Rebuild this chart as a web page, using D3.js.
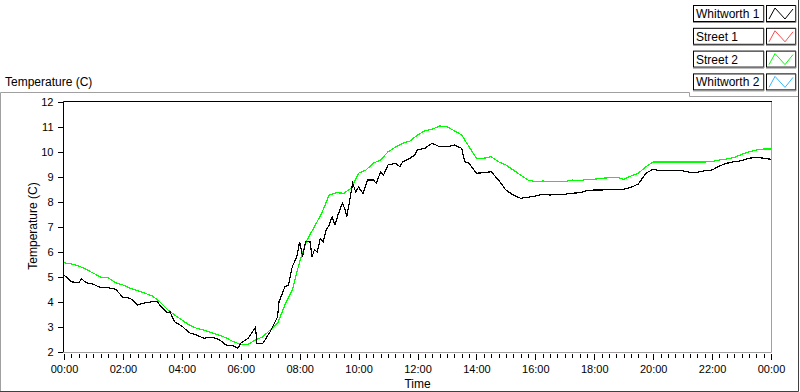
<!DOCTYPE html>
<html>
<head>
<meta charset="utf-8">
<script src="https://cdn.jsdelivr.net/npm/d3@7"></script>
<style>
  body { margin: 0; background: #fff; }
  svg { display: block; font-family: "Liberation Sans", Arial, sans-serif; }
  .lbl { font-size: 12px; fill: #000; }
  .tick { font-size: 11px; fill: #000; }
</style>
</head>
<body>
<svg id="chart" width="800" height="392"></svg>
<script>
// ---- data (hours of day, temperature in C) ----
const seriesNames = ['Whitworth 1', 'Street 1', 'Street 2', 'Whitworth 2'];
const seriesColors = ['#000000', '#ff4a4a', '#00ff00', '#38b8ff'];

const w1Hours = [0, 0.25, 0.5, 0.6, 0.75, 1, 1.25, 1.5, 1.75, 2, 2.25, 2.5, 2.75, 3, 3.15, 3.25, 3.5, 3.6, 3.75,
  4, 4.25, 4.5, 4.75, 5, 5.25, 5.5, 5.75, 5.9, 6, 6.25, 6.5, 6.55, 6.75, 7, 7.25, 7.3, 7.5, 7.62, 7.7, 7.75,
  7.9, 8, 8.1, 8.2, 8.35, 8.42, 8.5, 8.6, 8.7, 8.8, 8.9, 9, 9.1, 9.2, 9.3, 9.45, 9.55, 9.6, 9.7, 9.8, 9.9,
  10, 10.15, 10.3, 10.5, 10.6, 10.75, 10.85, 11, 11.25, 11.4, 11.5, 11.75, 11.9, 12, 12.25, 12.5, 12.75,
  13, 13.25, 13.5, 13.6, 13.75, 14, 14.25, 14.5, 14.75, 15, 15.25, 15.5, 15.75, 16, 16.25, 16.5, 16.75,
  17, 17.25, 17.5, 17.75, 18, 18.25, 18.5, 18.75, 19, 19.25, 19.5, 19.75, 20, 20.25, 20.5, 20.75, 21,
  21.25, 21.5, 21.75, 22, 22.25, 22.5, 22.75, 23, 23.25, 23.5, 23.75, 24];
const w1Temp = [5.08, 4.81, 4.77, 4.92, 4.77, 4.71, 4.57, 4.57, 4.51, 4.19, 4.15, 3.88, 3.97, 4.01, 4.03, 3.88, 3.57, 3.61, 3.21,
  3.04, 2.77, 2.68, 2.55, 2.59, 2.51, 2.28, 2.24, 2.15, 2.35, 2.55, 2.99, 2.35, 2.35, 2.81, 3.41, 4.01, 4.61, 4.68, 5.15, 5.41,
  5.81, 6.41, 5.81, 6.41, 6.41, 5.81, 6.08, 6.01, 6.55, 6.41, 6.88, 7.08, 7.41, 7.08, 7.48, 7.95, 7.68, 7.41, 8.08, 8.75, 8.41,
  8.59, 8.35, 8.88, 8.88, 8.75, 9.21, 9.08, 9.48, 9.55, 9.41, 9.61, 9.75, 9.88, 10.08, 10.15, 10.35, 10.21,
  10.21, 10.28, 10.15, 9.61, 9.55, 9.15, 9.17, 9.21, 8.88, 8.48, 8.28, 8.15, 8.19, 8.24, 8.31, 8.28, 8.31,
  8.31, 8.35, 8.37, 8.45, 8.48, 8.48, 8.51, 8.51, 8.51, 8.59, 8.72, 9.15, 9.31, 9.25, 9.25, 9.25, 9.25,
  9.19, 9.19, 9.25, 9.28, 9.44, 9.55, 9.61, 9.65, 9.75, 9.79, 9.75, 9.71];

const s2Hours = [0, 0.25, 0.5, 0.75, 1, 1.25, 1.5, 1.75, 2, 2.25, 2.5, 2.75, 3, 3.25, 3.5, 3.75, 4, 4.25, 4.5, 4.75,
  5, 5.25, 5.5, 5.75, 6, 6.25, 6.5, 6.75, 7, 7.25, 7.5, 7.75, 8, 8.25, 8.5, 8.75, 9, 9.25, 9.5, 9.75,
  10, 10.25, 10.5, 10.75, 11, 11.25, 11.5, 11.75, 12, 12.25, 12.5, 12.75, 13, 13.25, 13.5, 13.75,
  14, 14.25, 14.5, 14.75, 15, 15.25, 15.5, 15.75, 16, 16.25, 16.5, 16.75, 17, 17.25, 17.5, 17.75,
  18, 18.25, 18.5, 18.75, 19, 19.25, 19.5, 19.75, 20, 20.25, 20.5, 20.75, 21, 21.25, 21.5, 21.75,
  22, 22.25, 22.5, 22.75, 23, 23.25, 23.5, 23.75, 24];
const s2Temp = [5.57, 5.52, 5.44, 5.31, 5.15, 4.99, 4.97, 4.77, 4.68, 4.55, 4.45, 4.35, 4.24, 4.01, 3.71, 3.48, 3.28, 3.08, 2.95, 2.88,
  2.77, 2.68, 2.57, 2.41, 2.31, 2.31, 2.48, 2.61, 2.88, 3.15, 3.88, 4.48, 5.61, 6.48, 7.01, 7.55, 8.28, 8.37, 8.35, 8.55,
  9.15, 9.28, 9.55, 9.68, 10.01, 10.19, 10.35, 10.44, 10.68, 10.85, 10.91, 11.04, 11.01, 10.85, 10.68, 10.21,
  9.75, 9.75, 9.81, 9.61, 9.48, 9.28, 9.08, 8.88, 8.81, 8.84, 8.81, 8.81, 8.81, 8.88, 8.85, 8.91,
  8.91, 8.95, 8.97, 8.99, 8.91, 9.04, 9.15, 9.41, 9.6, 9.6, 9.6, 9.6, 9.6, 9.6, 9.6, 9.6,
  9.62, 9.68, 9.72, 9.78, 9.9, 10.01, 10.08, 10.12, 10.12];

const yTicks = [2, 3, 4, 5, 6, 7, 8, 9, 10, 11, 12];
const xMajorTicks = [0, 2, 4, 6, 8, 10, 12, 14, 16, 18, 20, 22, 24];

// ---- layout ----
const svg = d3.select('#chart');
const plot = { left: 64, right: 771, top: 102, bottom: 352 };

const x = d3.scaleLinear().domain([0, 24]).range([plot.left, plot.right]);
const y = d3.scaleLinear().domain([2, 12]).range([plot.bottom, plot.top]);

// outer sunken frame
svg.append('path')
  .attr('d', 'M0.5,391 V92.5 H689.5 V96.5 H798')
  .attr('fill', 'none').attr('stroke', '#a0a0a0');
svg.append('path')
  .attr('d', 'M798.5,0 V391.5 H0')
  .attr('fill', 'none').attr('stroke', '#404040');

// chart title
svg.append('text').attr('class', 'lbl').attr('x', 5).attr('y', 86).text('Temperature (C)');

// plot frame
svg.append('path')
  .attr('d', `M${plot.left - 0.5},${plot.bottom} V${plot.top - 0.5} H${plot.right + 1}`)
  .attr('fill', 'none').attr('stroke', '#000');
svg.append('path')
  .attr('d', `M${plot.right + 0.5},${plot.top} V${plot.bottom + 0.5} H${plot.left - 1}`)
  .attr('fill', 'none').attr('stroke', '#a0a0a0');

// y axis
const yAxis = d3.axisLeft(y).tickValues(yTicks).tickSize(5).tickPadding(4).tickFormat(d3.format('d'));
const gy = svg.append('g').attr('transform', `translate(${plot.left - 1.5},0)`).call(yAxis);
gy.select('.domain').remove();
gy.selectAll('.tick line').attr('stroke', '#000').attr('shape-rendering', 'crispEdges');
gy.selectAll('.tick text').attr('class', 'tick').attr('font-family', null).attr('font-size', null);

svg.append('text').attr('class', 'lbl')
  .attr('transform', 'translate(37,226) rotate(-90)')
  .attr('text-anchor', 'middle').attr('fill', '#300000')
  .text('Temperature (C)');

// x axis: minor ticks every 15 minutes, labelled ticks every 2 hours
const minor = d3.range(0, 24.001, 0.25).filter(h => h % 2 !== 0);
svg.append('g').selectAll('line').data(minor).join('line')
  .attr('x1', d => Math.round(x(d)) + 0.5).attr('x2', d => Math.round(x(d)) + 0.5)
  .attr('y1', plot.bottom + 2).attr('y2', plot.bottom + 6)
  .attr('stroke', '#000');
const xAxis = d3.axisBottom(x).tickValues(xMajorTicks).tickSize(6).tickPadding(5)
  .tickFormat(h => String(h % 24).padStart(2, '0') + ':00');
const gx = svg.append('g').attr('transform', `translate(0,${plot.bottom + 2})`).call(xAxis);
gx.select('.domain').remove();
gx.selectAll('.tick line').attr('stroke', '#000').attr('shape-rendering', 'crispEdges');
gx.selectAll('.tick text').attr('class', 'tick').attr('font-family', null).attr('font-size', null);

svg.append('text').attr('class', 'lbl')
  .attr('x', (plot.left + plot.right) / 2).attr('y', 388)
  .attr('text-anchor', 'middle').text('Time');

// series
const line = d3.line().x(d => x(d[0])).y(d => y(d[1]));
const drawn = [
  { data: d3.zip(s2Hours, s2Temp), color: seriesColors[2] },
  { data: d3.zip(w1Hours, w1Temp), color: seriesColors[0] }
];
svg.append('g').selectAll('path').data(drawn).join('path')
  .attr('d', d => line(d.data))
  .attr('fill', 'none')
  .attr('stroke', d => d.color)
  .attr('stroke-width', 1.2)
  .attr('shape-rendering', 'crispEdges');

// legend
const leg = svg.append('g').selectAll('g').data(seriesNames).join('g')
  .attr('transform', (d, i) => `translate(693,${5 + i * 22.8})`);
leg.append('rect').attr('x', 0.5).attr('y', 0.5).attr('width', 70).attr('height', 16)
  .attr('fill', '#fff').attr('stroke', '#000');
leg.append('path').attr('d', 'M71,0.5 V17.5 H0').attr('fill', 'none').attr('stroke', '#909090');
leg.append('text').attr('class', 'lbl').attr('x', 3).attr('y', 13).text(d => d);
leg.append('rect').attr('x', 73.5).attr('y', 0.5).attr('width', 29).attr('height', 16)
  .attr('fill', '#fff').attr('stroke', '#000');
leg.append('path').attr('d', 'M103,0.5 V17.5 H73').attr('fill', 'none').attr('stroke', '#909090');
leg.append('path')
  .attr('d', 'M76,14 L82,3 L92,14 L100,4')
  .attr('fill', 'none')
  .attr('stroke', (d, i) => seriesColors[i]);
</script>
</body>
</html>
